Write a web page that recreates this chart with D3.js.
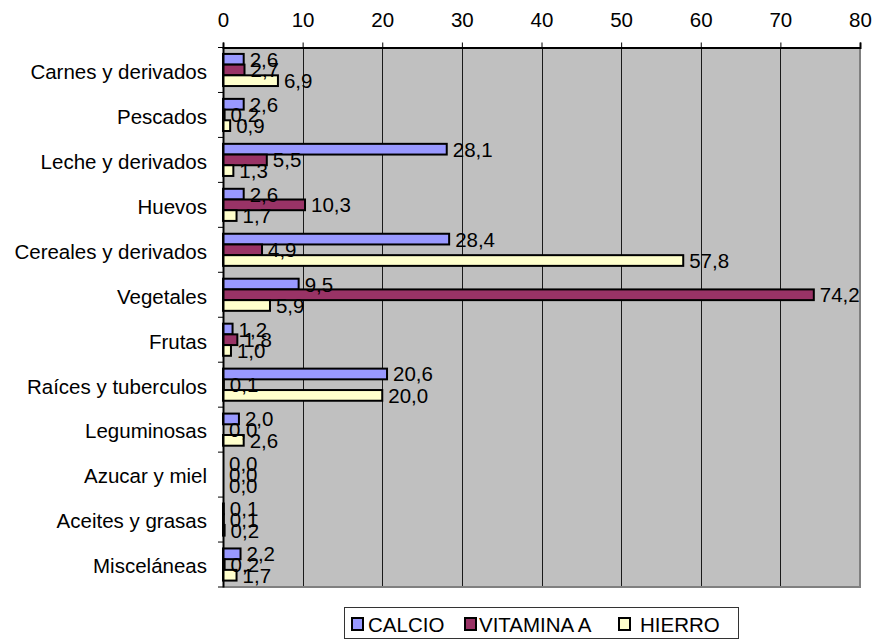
<!DOCTYPE html>
<html>
<head>
<meta charset="utf-8">
<script src="https://cdn.jsdelivr.net/npm/d3@7"></script>
<style>
  html, body { margin: 0; padding: 0; background: #fff; }
  svg { display: block; font-family: "Liberation Sans", Arial, sans-serif; }
</style>
</head>
<body>
<svg id="chart" width="875" height="641"></svg>
<script>
// Food groups and their contribution (%) to each nutrient
const categories = [
  "Carnes y derivados", "Pescados", "Leche y derivados", "Huevos",
  "Cereales y derivados", "Vegetales", "Frutas", "Raíces y tuberculos",
  "Leguminosas", "Azucar y miel", "Aceites y grasas", "Misceláneas"
];
const calcio     = [2.6, 2.6, 28.1, 2.6, 28.4, 9.5, 1.2, 20.6, 2.0, 0.0, 0.1, 2.2];
const vitaminaA  = [2.7, 0.2, 5.5, 10.3, 4.9, 74.2, 1.8, 0.1, 0.0, 0.0, 0.1, 0.2];
const hierro     = [6.9, 0.9, 1.3, 1.7, 57.8, 5.9, 1.0, 20.0, 2.6, 0.0, 0.2, 1.7];
const seriesNames = ["CALCIO", "VITAMINA A", "HIERRO"];
const xTicks = [0, 10, 20, 30, 40, 50, 60, 70, 80];

const colors = ["#9999FF", "#993366", "#FFFFCC"];
const seriesValues = [calcio, vitaminaA, hierro];
const FONT = 20.5;

const svg = d3.select("#chart");
const plot = { left: 223, right: 860, top: 47.5, bottom: 587 };

const x = d3.scaleLinear().domain([0, 80]).range([plot.left, plot.right]);
const y = d3.scaleBand().domain(categories).range([plot.top, plot.bottom])
  .paddingInner(0.4 / 1.4).paddingOuter(0.2 / 1.4);
// full category slots (no padding), used for the axis labels and ticks
const yFull = d3.scaleBand().domain(categories).range([plot.top, plot.bottom]);
const ySeries = d3.scaleBand().domain(seriesNames).range([0, y.bandwidth()]);

const fmt = v => d3.format(".1f")(v).replace(".", ",");

// plot background
svg.append("rect")
  .attr("x", plot.left).attr("y", plot.top)
  .attr("width", plot.right - plot.left).attr("height", plot.bottom - plot.top)
  .attr("fill", "#C0C0C0");

// vertical gridlines
svg.append("g").selectAll("line")
  .data(xTicks.filter(d => d > 0 && d < 80))
  .join("line")
  .attr("x1", d => Math.round(x(d)) + 0.5).attr("x2", d => Math.round(x(d)) + 0.5)
  .attr("y1", plot.top).attr("y2", plot.bottom)
  .attr("stroke", "#1a1a1a").attr("stroke-width", 1);

// right and bottom frame edges
svg.append("path")
  .attr("d", `M${plot.right},${plot.top}V${plot.bottom}H${plot.left}`)
  .attr("fill", "none").attr("stroke", "#808080").attr("stroke-width", 2);

// bars
const groups = svg.append("g").selectAll("g")
  .data(categories)
  .join("g")
  .attr("transform", d => `translate(0,${y(d)})`);

groups.selectAll("rect")
  .data((d, i) => seriesNames.map((s, k) => ({ s, k, v: seriesValues[k][i] })))
  .join("rect")
  .attr("x", x(0))
  .attr("y", d => ySeries(d.s))
  .attr("width", d => x(d.v) - x(0))
  .attr("height", ySeries.bandwidth())
  .attr("fill", d => colors[d.k])
  .attr("stroke", "#000")
  .attr("stroke-width", 2);

// value labels
groups.selectAll("text")
  .data((d, i) => seriesNames.map((s, k) => ({ s, k, v: seriesValues[k][i] })))
  .join("text")
  .attr("x", d => x(d.v) + 6)
  .attr("y", d => ySeries(d.s) + ySeries.bandwidth() / 2 + 7.5)
  .attr("font-size", FONT)
  .attr("fill", "#000")
  .text(d => fmt(d.v));

// top value axis
const xAxis = d3.axisTop(x).tickValues(xTicks).tickSize(5).tickPadding(16)
  .tickFormat(d3.format("d"));
const gx = svg.append("g").attr("transform", `translate(0,${plot.top})`).call(xAxis);
gx.select(".domain").attr("stroke", "#000").attr("stroke-width", 2);
gx.selectAll(".tick line").attr("stroke", "#000");
gx.selectAll(".tick text").attr("font-size", FONT).attr("fill", "#000")
  .attr("font-family", "Liberation Sans, Arial, sans-serif");

// left category axis
const yAxis = d3.axisLeft(yFull).tickSize(0).tickPadding(16);
const gy = svg.append("g").attr("transform", `translate(${plot.left},0)`).call(yAxis);
gy.select(".domain").attr("stroke", "#000").attr("stroke-width", 2);
gy.selectAll(".tick text").attr("font-size", FONT).attr("fill", "#000")
  .attr("font-family", "Liberation Sans, Arial, sans-serif")
  .attr("dy", "0.43em");
// tick marks between categories
svg.append("g").selectAll("line")
  .data(d3.range(categories.length + 1))
  .join("line")
  .attr("x1", plot.left - 5).attr("x2", plot.left)
  .attr("y1", i => plot.top + i * yFull.step())
  .attr("y2", i => plot.top + i * yFull.step())
  .attr("stroke", "#000").attr("stroke-width", 1);

// legend
const legend = svg.append("g");
legend.append("rect")
  .attr("x", 344.5).attr("y", 607.5).attr("width", 394).attr("height", 31)
  .attr("fill", "#fff").attr("stroke", "#333").attr("stroke-width", 1);
const legendX = [351, 464, 618];
const legendTextGap = [4, 2, 9];
const li = legend.selectAll("g.item")
  .data(seriesNames)
  .join("g").attr("class", "item")
  .attr("transform", (d, i) => `translate(${legendX[i]},617)`);
li.append("rect")
  .attr("x", 1).attr("y", 1).attr("width", 11).attr("height", 12)
  .attr("fill", (d, i) => colors[i]).attr("stroke", "#000").attr("stroke-width", 2);
li.append("text")
  .attr("x", (d, i) => 13 + legendTextGap[i])
  .attr("y", 14.5)
  .attr("font-size", FONT).attr("fill", "#000")
  .text(d => d);
</script>
</body>
</html>
